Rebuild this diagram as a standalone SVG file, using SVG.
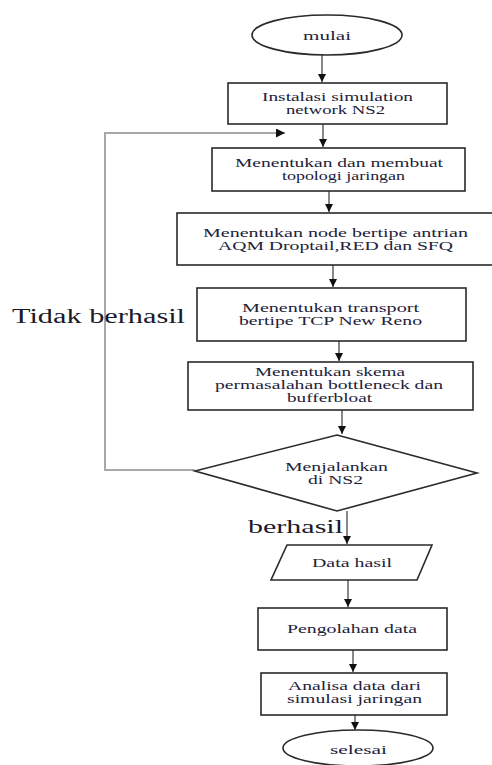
<svg xmlns="http://www.w3.org/2000/svg" width="492" height="765" viewBox="0 0 492 765">
<style>
.box{fill:#fff;stroke:#2a2a2a;stroke-width:1.6}
.t{font-family:"Liberation Serif","Times New Roman",serif;font-size:12px;fill:#22223a;text-anchor:middle}
.lbl{font-family:"Liberation Serif","Times New Roman",serif;fill:#1a1a2a}
.c{fill:none;stroke:#555;stroke-width:1.4}
.loop{fill:none;stroke:#a8a8a8;stroke-width:2}
</style>
<defs>
<marker id="ah" viewBox="0 0 10 10" refX="10" refY="5" markerWidth="8" markerHeight="8" markerUnits="userSpaceOnUse" orient="auto">
<path d="M0,0 L10,5 L0,10 z" fill="#111"/>
</marker>
<marker id="ah2" viewBox="0 0 10 10" refX="10" refY="5" markerWidth="9" markerHeight="9" markerUnits="userSpaceOnUse" orient="auto">
<path d="M0,0 L10,5 L0,10 z" fill="#111"/>
</marker>
</defs>
<g id="connectors">
<path class="c" d="M322,55 V82" marker-end="url(#ah)"/>
<path class="c" d="M323,124 V147" marker-end="url(#ah)"/>
<path class="c" d="M329,191 V212" marker-end="url(#ah)"/>
<path class="c" d="M333,265 V287" marker-end="url(#ah)"/>
<path class="c" d="M339,341 V361" marker-end="url(#ah)"/>
<path class="c" d="M342,410 V434" marker-end="url(#ah)"/>
<path class="c" d="M347,511 V544" marker-end="url(#ah)"/>
<path class="c" d="M348,580 V607" marker-end="url(#ah)"/>
<path class="c" d="M353,650 V672" marker-end="url(#ah)"/>
<path class="c" d="M355,715 V730" marker-end="url(#ah)"/>
<path class="loop" d="M195,470 H105 V133 H285" marker-end="url(#ah2)"/>
</g>
<g id="mulai">
<ellipse class="box" cx="327" cy="35" rx="75" ry="20"/>
<text class="t" x="327" y="40" textLength="48" lengthAdjust="spacingAndGlyphs">mulai</text>
</g>
<g id="instalasi">
<rect class="box" x="228" y="83" width="219" height="41"/>
<text class="t" x="337.5" y="101" textLength="151" lengthAdjust="spacingAndGlyphs">Instalasi simulation</text>
<text class="t" x="335.5" y="114" textLength="99" lengthAdjust="spacingAndGlyphs">network NS2</text>
</g>
<g id="topologi">
<rect class="box" x="212" y="148" width="253" height="43"/>
<text class="t" x="339" y="167" textLength="208" lengthAdjust="spacingAndGlyphs">Menentukan dan membuat</text>
<text class="t" x="343.5" y="180" textLength="123" lengthAdjust="spacingAndGlyphs">topologi jaringan</text>
</g>
<g id="antrian">
<rect class="box" x="177" y="213" width="320" height="52"/>
<text class="t" x="335.5" y="237" textLength="265" lengthAdjust="spacingAndGlyphs">Menentukan  node bertipe antrian</text>
<text class="t" x="335.5" y="250" textLength="235" lengthAdjust="spacingAndGlyphs">AQM Droptail,RED dan SFQ</text>
</g>
<g id="transport">
<rect class="box" x="197" y="288" width="269" height="53"/>
<text class="t" x="330.5" y="312" textLength="177" lengthAdjust="spacingAndGlyphs">Menentukan  transport</text>
<text class="t" x="330.5" y="325" textLength="183" lengthAdjust="spacingAndGlyphs">bertipe TCP New Reno</text>
</g>
<g id="skema">
<rect class="box" x="188" y="362" width="285" height="48"/>
<text class="t" x="330" y="376" textLength="150" lengthAdjust="spacingAndGlyphs">Menentukan skema</text>
<text class="t" x="329" y="389" textLength="228" lengthAdjust="spacingAndGlyphs">permasalahan bottleneck dan</text>
<text class="t" x="329.5" y="402" textLength="85" lengthAdjust="spacingAndGlyphs">bufferbloat</text>
</g>
<g id="menjalankan">
<polygon class="box" points="337,435 477,473 337,511 195,471"/>
<text class="t" x="336.5" y="471" textLength="103" lengthAdjust="spacingAndGlyphs">Menjalankan</text>
<text class="t" x="335.5" y="484" textLength="55" lengthAdjust="spacingAndGlyphs">di NS2</text>
</g>
<g id="data-hasil">
<polygon class="box" points="287,545 432,545 417,580 271,580"/>
<text class="t" x="352" y="567" textLength="80" lengthAdjust="spacingAndGlyphs">Data hasil</text>
</g>
<g id="pengolahan">
<rect class="box" x="258" y="608" width="189" height="42"/>
<text class="t" x="352" y="633" textLength="130" lengthAdjust="spacingAndGlyphs">Pengolahan data</text>
</g>
<g id="analisa">
<rect class="box" x="261" y="673" width="186" height="42"/>
<text class="t" x="354.5" y="690" textLength="133" lengthAdjust="spacingAndGlyphs">Analisa data dari</text>
<text class="t" x="354.5" y="703" textLength="135" lengthAdjust="spacingAndGlyphs">simulasi jaringan</text>
</g>
<g id="selesai">
<ellipse class="box" cx="358" cy="748" rx="75" ry="18"/>
<text class="t" x="358.5" y="754" textLength="57" lengthAdjust="spacingAndGlyphs">selesai</text>
</g>
<g id="labels">
<text class="lbl" x="12" y="323" font-size="20" textLength="173" lengthAdjust="spacingAndGlyphs">Tidak berhasil</text>
<text class="lbl" x="248" y="533" font-size="18" textLength="95" lengthAdjust="spacingAndGlyphs">berhasil</text>
</g>
</svg>
